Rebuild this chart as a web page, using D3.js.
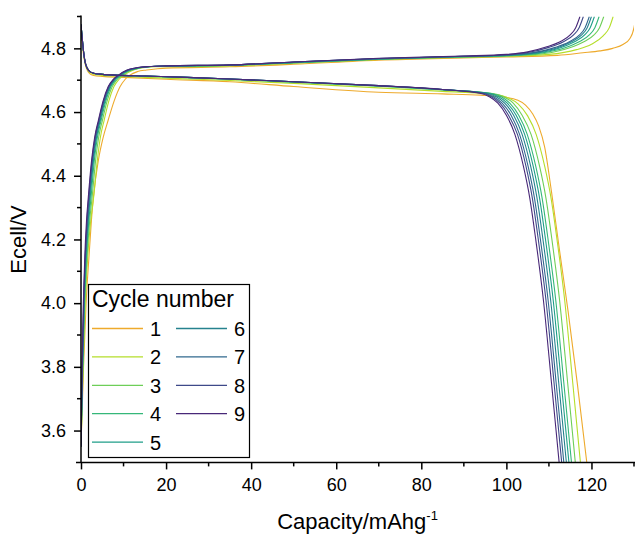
<!DOCTYPE html>
<html>
<head>
<meta charset="utf-8">
<script src="https://cdn.jsdelivr.net/npm/d3@7"></script>
<style>
  body { margin: 0; background: #fff; }
  text { font-family: "Liberation Sans", Arial, sans-serif; fill: #000; }
</style>
</head>
<body>
<svg id="chart" width="635" height="537"></svg>
<script>
// cycle numbers and line colours
const cycles = [1, 2, 3, 4, 5, 6, 7, 8, 9];
const colors = ['#eeaa2c', '#b5de2b', '#6ece58', '#35b779', '#1f9e89', '#26828e', '#31688e', '#3e4989', '#482878'];

// charge curves, [capacity mAh/g, Ecell V]
const charge1 = [[0,3.55],[0.6,3.8],[1.2,4.0],[1.9,4.15],[2.45,4.26],[2.9,4.33],[4.1,4.45],[5.2,4.52],[6.4,4.575],[7.8,4.635],[9.2,4.68],[10.4,4.703],[11.5,4.716],[13.3,4.727],[15.4,4.732],[18,4.736],[20,4.738],[35,4.742],[50,4.75],[70,4.763],[90,4.77],[100,4.773],[112,4.778],[118,4.786],[122,4.792],[125,4.8],[127.5,4.813],[129,4.83],[130,4.865],[130.6,4.92]];
const charge2 = [[0,3.55],[0.5,3.8],[1.0,4.0],[1.6,4.15],[2.3,4.26],[2.95,4.33],[3.85,4.45],[4.55,4.52],[5.45,4.575],[6.55,4.635],[7.75,4.68],[8.95,4.703],[10.15,4.716],[12.2,4.731],[14.6,4.739],[17.6,4.742],[20,4.742],[35,4.745],[50,4.753],[70,4.765],[90,4.772],[100,4.775],[110,4.781],[116.5,4.796],[120,4.813],[122.8,4.84],[124.2,4.865],[125.1,4.9]];
const charge3 = [[0,3.55],[0.45,3.8],[0.9,4.0],[1.45,4.15],[2.05,4.26],[2.6,4.33],[3.45,4.45],[4.15,4.52],[5.05,4.575],[6.15,4.635],[7.35,4.68],[8.55,4.703],[9.75,4.716],[11.8,4.731],[14.1,4.739],[17.1,4.743],[20,4.743],[35,4.746],[50,4.754],[70,4.766],[90,4.773],[100,4.776],[109,4.784],[114.9,4.802],[118.1,4.82],[120.6,4.842],[121.9,4.865],[122.9,4.9]];
const charge4 = [[0,3.55],[0.4,3.8],[0.8,4.0],[1.3,4.15],[1.85,4.26],[2.35,4.33],[3.15,4.45],[3.85,4.52],[4.75,4.575],[5.85,4.635],[7.05,4.68],[8.25,4.703],[9.45,4.716],[11.5,4.731],[13.8,4.739],[16.8,4.743],[20,4.744],[35,4.747],[50,4.755],[70,4.766],[90,4.774],[100,4.777],[108,4.785],[113.8,4.802],[117,4.82],[119.5,4.842],[120.8,4.865],[121.8,4.9]];
const charge5 = [[0,3.55],[0.35,3.8],[0.75,4.0],[1.2,4.15],[1.7,4.26],[2.15,4.33],[2.95,4.45],[3.65,4.52],[4.55,4.575],[5.65,4.635],[6.85,4.68],[8.05,4.703],[9.25,4.716],[11.25,4.731],[13.6,4.739],[16.6,4.743],[20,4.744],[35,4.747],[50,4.756],[70,4.767],[90,4.774],[100,4.778],[107,4.785],[112.7,4.802],[115.9,4.82],[118.4,4.842],[119.7,4.865],[120.7,4.9]];
const charge6 = [[0,3.55],[0.35,3.8],[0.7,4.0],[1.1,4.15],[1.6,4.26],[2.0,4.33],[2.8,4.45],[3.5,4.52],[4.4,4.575],[5.5,4.635],[6.7,4.68],[7.9,4.703],[9.1,4.716],[11.1,4.731],[13.4,4.739],[16.4,4.743],[20,4.745],[35,4.747],[50,4.756],[70,4.767],[90,4.775],[100,4.779],[106,4.785],[112,4.802],[115.2,4.82],[117.7,4.842],[119,4.865],[120,4.9]];
const charge7 = [[0,3.55],[0.3,3.8],[0.65,4.0],[1.05,4.15],[1.5,4.26],[1.9,4.33],[2.7,4.45],[3.4,4.52],[4.3,4.575],[5.4,4.635],[6.6,4.68],[7.8,4.703],[9.0,4.716],[11,4.731],[13.3,4.739],[16.3,4.743],[20,4.745],[35,4.748],[50,4.757],[70,4.768],[90,4.775],[100,4.779],[106,4.786],[111.5,4.803],[114.7,4.82],[117.2,4.842],[118.5,4.865],[119.5,4.9]];
const charge8 = [[0,3.55],[0.3,3.8],[0.6,4.0],[1.0,4.15],[1.4,4.26],[1.8,4.33],[2.6,4.45],[3.3,4.52],[4.2,4.575],[5.3,4.635],[6.5,4.68],[7.7,4.703],[8.9,4.716],[10.8,4.731],[13.1,4.739],[16.1,4.743],[20,4.745],[35,4.748],[50,4.757],[70,4.768],[90,4.775],[100,4.78],[105,4.787],[110,4.803],[113.3,4.82],[115.8,4.842],[117.1,4.865],[118.1,4.9]];
const charge9 = [[0,3.55],[0.25,3.8],[0.55,4.0],[0.9,4.15],[1.3,4.26],[1.7,4.33],[2.5,4.45],[3.2,4.52],[4.1,4.575],[5.2,4.635],[6.4,4.68],[7.6,4.703],[8.8,4.716],[10.7,4.731],[13,4.739],[16,4.743],[20,4.745],[35,4.748],[50,4.757],[70,4.769],[90,4.776],[100,4.781],[105,4.789],[109.5,4.805],[112.5,4.82],[115,4.842],[116.3,4.865],[117.3,4.9]];

// discharge curves, [capacity mAh/g, Ecell V]
const discharge1 = [[0,4.87],[0.3,4.82],[0.6,4.78],[1.0,4.75],[1.5,4.73],[2.1,4.72],[3,4.715],[5,4.712],[10,4.709],[20,4.703],[35,4.695],[50,4.68],[70,4.662],[85,4.657],[94,4.653],[100,4.646],[102.5,4.638],[104.5,4.622],[106.2,4.594],[107.6,4.556],[109,4.49],[110.6,4.35],[112.5,4.165],[114.5,3.975],[116.7,3.745],[118.9,3.5]];
const discharge2 = [[0,4.873],[0.3,4.825],[0.6,4.785],[1.0,4.752],[1.5,4.734],[2.1,4.724],[3,4.719],[4.5,4.716],[8,4.713],[15,4.709],[25,4.704],[35,4.699],[50,4.69],[70,4.676],[85,4.665],[97.5,4.655],[100.5,4.644],[102.8,4.625],[105,4.588],[107,4.53],[109,4.43],[110.5,4.33],[112,4.19],[113.7,4.01],[115.6,3.75],[117.4,3.5]];
const discharge3 = [[0,4.875],[0.3,4.83],[0.6,4.79],[1.0,4.755],[1.5,4.737],[2.1,4.727],[3,4.722],[4.5,4.719],[8,4.716],[15,4.712],[25,4.708],[35,4.703],[50,4.694],[70,4.681],[85,4.669],[96.8,4.658],[99.5,4.647],[101.6,4.628],[103.7,4.59],[105.8,4.53],[107.8,4.43],[109.3,4.33],[110.8,4.19],[112.5,4.01],[114.4,3.75],[116.2,3.5]];
const discharge4 = [[0,4.875],[0.3,4.83],[0.6,4.79],[1.0,4.755],[1.5,4.737],[2.1,4.727],[3,4.722],[4.5,4.719],[8,4.716],[15,4.713],[25,4.708],[35,4.703],[50,4.694],[70,4.682],[85,4.67],[96.2,4.659],[98.8,4.648],[100.8,4.628],[102.9,4.59],[104.9,4.53],[106.9,4.43],[108.4,4.33],[109.9,4.19],[111.6,4.01],[113.5,3.75],[115.3,3.5]];
const discharge5 = [[0,4.875],[0.3,4.83],[0.6,4.79],[1.0,4.755],[1.5,4.737],[2.1,4.727],[3,4.722],[4.5,4.719],[8,4.716],[15,4.713],[25,4.709],[35,4.704],[50,4.695],[70,4.682],[85,4.67],[95.7,4.659],[98.2,4.648],[100.2,4.628],[102.3,4.59],[104.3,4.53],[106.3,4.43],[107.8,4.33],[109.3,4.19],[111,4.01],[112.9,3.75],[114.7,3.5]];
const discharge6 = [[0,4.875],[0.3,4.83],[0.6,4.79],[1.0,4.755],[1.5,4.737],[2.1,4.727],[3,4.722],[4.5,4.719],[8,4.716],[15,4.713],[25,4.709],[35,4.704],[50,4.695],[70,4.683],[85,4.671],[95.2,4.659],[97.6,4.648],[99.6,4.628],[101.7,4.59],[103.7,4.53],[105.7,4.43],[107.2,4.33],[108.7,4.19],[110.4,4.01],[112.3,3.75],[114.1,3.5]];
const discharge7 = [[0,4.875],[0.3,4.83],[0.6,4.79],[1.0,4.755],[1.5,4.737],[2.1,4.727],[3,4.722],[4.5,4.719],[8,4.716],[15,4.713],[25,4.709],[35,4.704],[50,4.695],[70,4.683],[85,4.671],[94.7,4.659],[97,4.648],[99,4.628],[101.1,4.59],[103.1,4.53],[105.1,4.43],[106.6,4.33],[108.1,4.19],[109.8,4.01],[111.7,3.75],[113.5,3.5]];
const discharge8 = [[0,4.875],[0.3,4.83],[0.6,4.79],[1.0,4.755],[1.5,4.737],[2.1,4.727],[3,4.722],[4.5,4.719],[8,4.716],[15,4.713],[25,4.709],[35,4.704],[50,4.695],[70,4.683],[85,4.671],[94.3,4.659],[96.5,4.648],[98.5,4.628],[100.5,4.59],[102.6,4.53],[104.6,4.43],[106.1,4.33],[107.6,4.19],[109.3,4.01],[111.2,3.75],[113.0,3.5]];
const discharge9 = [[0,4.875],[0.3,4.83],[0.6,4.79],[1.0,4.755],[1.5,4.737],[2.1,4.727],[3,4.722],[4.5,4.719],[8,4.716],[15,4.713],[25,4.709],[35,4.704],[50,4.695],[70,4.683],[85,4.671],[93.8,4.659],[96,4.648],[98,4.628],[100,4.59],[102,4.53],[104,4.43],[105.5,4.33],[107,4.19],[108.7,4.01],[110.6,3.75],[112.4,3.5]];

const chargeCurves = [charge1, charge2, charge3, charge4, charge5, charge6, charge7, charge8, charge9];
const dischargeCurves = [discharge1, discharge2, discharge3, discharge4, discharge5, discharge6, discharge7, discharge8, discharge9];

// axis ticks
const xMajor = [0, 20, 40, 60, 80, 100, 120];
const xMinor = [10, 30, 50, 70, 90, 110, 130];
const yMajor = [3.6, 3.8, 4.0, 4.2, 4.4, 4.6, 4.8];
const yMinor = [3.7, 3.9, 4.1, 4.3, 4.5, 4.7, 4.9];

const svg = d3.select('#chart');
const pL = 81, pR = 634, pT = 16.5, pB = 462.4;

const x = d3.scaleLinear().domain([0, 130]).range([pL, pR]);
const y = d3.scaleLinear().domain([3.5, 4.9]).range([pB, pT]);

svg.append('defs').append('clipPath').attr('id', 'plot')
  .append('rect')
  .attr('x', pL).attr('y', pT)
  .attr('width', pR - pL).attr('height', pB - pT);

const line = d3.line()
  .x(d => x(d[0]))
  .y(d => y(d[1]))
  .curve(d3.curveMonotoneX);

const curves = svg.append('g').attr('clip-path', 'url(#plot)');
cycles.forEach((c, i) => {
  curves.append('path')
    .attr('d', line(chargeCurves[i]))
    .attr('fill', 'none')
    .attr('stroke', colors[i])
    .attr('stroke-width', 1.1);
  curves.append('path')
    .attr('d', line(dischargeCurves[i]))
    .attr('fill', 'none')
    .attr('stroke', colors[i])
    .attr('stroke-width', 1.1);
});

// x axis
const xAxis = svg.append('g').attr('transform', `translate(0,${pB})`);
xAxis.call(d3.axisBottom(x).tickValues(xMajor).tickSize(7).tickSizeOuter(0).tickPadding(9).tickFormat(d3.format('d')));
xAxis.append('g').selectAll('line').data(xMinor).join('line')
  .attr('x1', d => x(d)).attr('x2', d => x(d))
  .attr('y1', 0).attr('y2', 4)
  .attr('stroke', '#000').attr('stroke-width', 1.5);
xAxis.select('.domain').remove();
xAxis.append('line')
  .attr('x1', pL - 5).attr('x2', 635)
  .attr('stroke', '#000').attr('stroke-width', 1.5);

// y axis
const yAxis = svg.append('g').attr('transform', `translate(${pL},0)`);
yAxis.call(d3.axisLeft(y).tickValues(yMajor).tickSize(7).tickSizeOuter(0).tickPadding(8).tickFormat(d3.format('.1f')));
yAxis.append('g').selectAll('line').data(yMinor).join('line')
  .attr('y1', d => y(d)).attr('y2', d => y(d))
  .attr('x1', 0).attr('x2', -4)
  .attr('stroke', '#000').attr('stroke-width', 1.5);
yAxis.select('.domain').remove();
yAxis.append('line')
  .attr('y1', pT - 1).attr('y2', pB)
  .attr('stroke', '#000').attr('stroke-width', 1.5);

svg.selectAll('.tick line').attr('stroke-width', 1.5);
svg.selectAll('.tick text').style('font-size', '18px');

// axis titles
const xTitle = svg.append('text')
  .attr('x', (pL + pR) / 2).attr('y', 529)
  .attr('text-anchor', 'middle')
  .style('font-size', '22px');
xTitle.append('tspan').text('Capacity/mAhg');
xTitle.append('tspan').attr('dy', -9).style('font-size', '13px').text('-1');

svg.append('text')
  .attr('transform', `translate(26,${(pT + pB) / 2}) rotate(-90)`)
  .attr('text-anchor', 'middle')
  .style('font-size', '22px')
  .text('Ecell/V');

// legend
const legend = svg.append('g');
legend.append('rect')
  .attr('x', 88.5).attr('y', 284.5)
  .attr('width', 161).attr('height', 173)
  .attr('fill', '#fff').attr('stroke', '#000').attr('stroke-width', 1.2);
legend.append('text')
  .attr('x', 92).attr('y', 307)
  .style('font-size', '23px')
  .text('Cycle number');
cycles.forEach((c, i) => {
  const col = i < 5 ? 0 : 1;
  const row = i < 5 ? i : i - 5;
  const lx = col === 0 ? 92 : 176;
  const ly = 328.5 + row * 28.4;
  legend.append('line')
    .attr('x1', lx).attr('x2', lx + 51)
    .attr('y1', ly).attr('y2', ly)
    .attr('stroke', colors[i]).attr('stroke-width', 1.3);
  legend.append('text')
    .attr('x', lx + 58).attr('y', ly + 7.5)
    .style('font-size', '20px')
    .text(c);
});
</script>
</body>
</html>
